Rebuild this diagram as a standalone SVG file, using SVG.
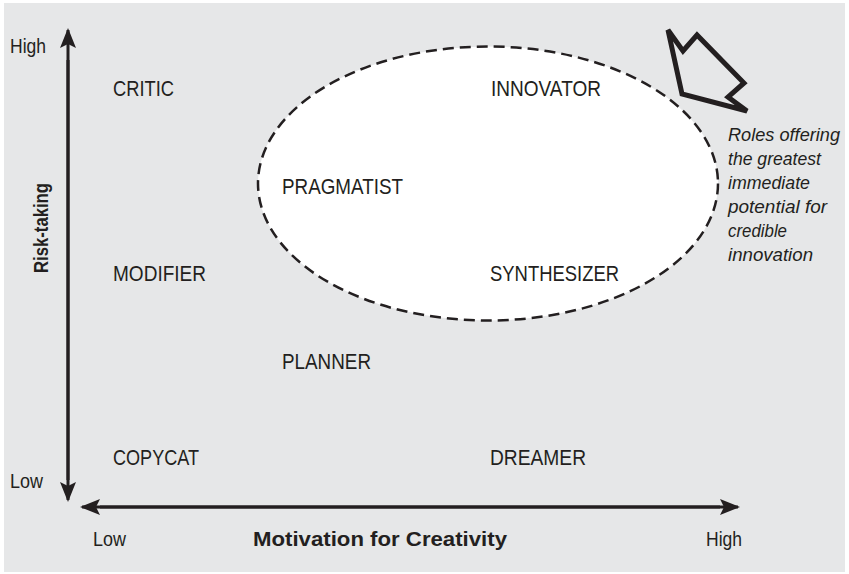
<svg xmlns="http://www.w3.org/2000/svg" width="849" height="574" viewBox="0 0 849 574">
<style>
.lbl{font-family:"Liberation Sans Narrow","Liberation Sans",Arial,sans-serif;font-size:22.5px;fill:#231f20}
.ax{font-family:"Liberation Sans Narrow","Liberation Sans",Arial,sans-serif;font-size:19.5px;fill:#231f20}
.axb{font-family:"Liberation Sans Narrow","Liberation Sans",Arial,sans-serif;font-size:20px;font-weight:bold;fill:#231f20}
.note{font-family:"Liberation Sans Narrow","Liberation Sans",Arial,sans-serif;font-size:19px;font-style:italic;fill:#231f20}
.axis{stroke:#231f20;stroke-width:3;fill:none}
</style>
<defs>
<marker id="ah" viewBox="0 0 20 16" refX="18" refY="8" markerWidth="20" markerHeight="16" markerUnits="userSpaceOnUse" orient="auto">
<path d="M0,0 L20,8 L0,16 L4,8 Z" fill="#231f20"/>
</marker>
</defs>
<rect x="4" y="3" width="841" height="569" fill="#e6e7e8"/>
<g id="zone">
<ellipse cx="488" cy="183.5" rx="230" ry="137" fill="#ffffff" stroke="#231f20" stroke-width="2.5" stroke-dasharray="11 6"/>
</g>
<g id="pointer">
<polygon points="668,30 683,51 697,35 744,83 728,97 747,111 682,94" fill="none" stroke="#231f20" stroke-width="5" stroke-linejoin="miter"/>
</g>
<g id="connectors">
<line class="axis" x1="68" y1="480" x2="68" y2="30" marker-end="url(#ah)"/>
<line class="axis" x1="68" y1="60" x2="68" y2="500" marker-end="url(#ah)"/>
<line class="axis" x1="720" y1="507" x2="82" y2="507" marker-end="url(#ah)"/>
<line class="axis" x1="100" y1="507" x2="738" y2="507" marker-end="url(#ah)"/>
</g>
<g id="axis-labels">
<text class="ax" x="10" y="53" textLength="36" lengthAdjust="spacingAndGlyphs">High</text>
<text class="ax" x="10" y="488" textLength="33" lengthAdjust="spacingAndGlyphs">Low</text>
<text class="ax" x="93" y="546" textLength="33" lengthAdjust="spacingAndGlyphs">Low</text>
<text class="ax" x="706" y="546" textLength="36" lengthAdjust="spacingAndGlyphs">High</text>
<text class="axb" x="253" y="546" textLength="254" lengthAdjust="spacingAndGlyphs">Motivation for Creativity</text>
<text class="axb" transform="translate(48,273) rotate(-90)" x="0" y="0" textLength="90" lengthAdjust="spacingAndGlyphs">Risk-taking</text>
</g>
<g id="critic"><text class="lbl" x="113" y="96" textLength="61" lengthAdjust="spacingAndGlyphs">CRITIC</text></g>
<g id="innovator"><text class="lbl" x="491" y="96" textLength="110" lengthAdjust="spacingAndGlyphs">INNOVATOR</text></g>
<g id="pragmatist"><text class="lbl" x="282" y="194" textLength="121" lengthAdjust="spacingAndGlyphs">PRAGMATIST</text></g>
<g id="modifier"><text class="lbl" x="113" y="281" textLength="93" lengthAdjust="spacingAndGlyphs">MODIFIER</text></g>
<g id="synthesizer"><text class="lbl" x="490" y="281" textLength="129" lengthAdjust="spacingAndGlyphs">SYNTHESIZER</text></g>
<g id="planner"><text class="lbl" x="282" y="369" textLength="89" lengthAdjust="spacingAndGlyphs">PLANNER</text></g>
<g id="copycat"><text class="lbl" x="113" y="465" textLength="86" lengthAdjust="spacingAndGlyphs">COPYCAT</text></g>
<g id="dreamer"><text class="lbl" x="490" y="465" textLength="96" lengthAdjust="spacingAndGlyphs">DREAMER</text></g>
<g id="note">
<text class="note" x="728" y="141" textLength="112" lengthAdjust="spacingAndGlyphs">Roles offering</text>
<text class="note" x="728" y="165" textLength="93" lengthAdjust="spacingAndGlyphs">the greatest</text>
<text class="note" x="728" y="189" textLength="82" lengthAdjust="spacingAndGlyphs">immediate</text>
<text class="note" x="728" y="213" textLength="99" lengthAdjust="spacingAndGlyphs">potential for</text>
<text class="note" x="728" y="237" textLength="59" lengthAdjust="spacingAndGlyphs">credible</text>
<text class="note" x="728" y="261" textLength="85" lengthAdjust="spacingAndGlyphs">innovation</text>
</g>
</svg>
